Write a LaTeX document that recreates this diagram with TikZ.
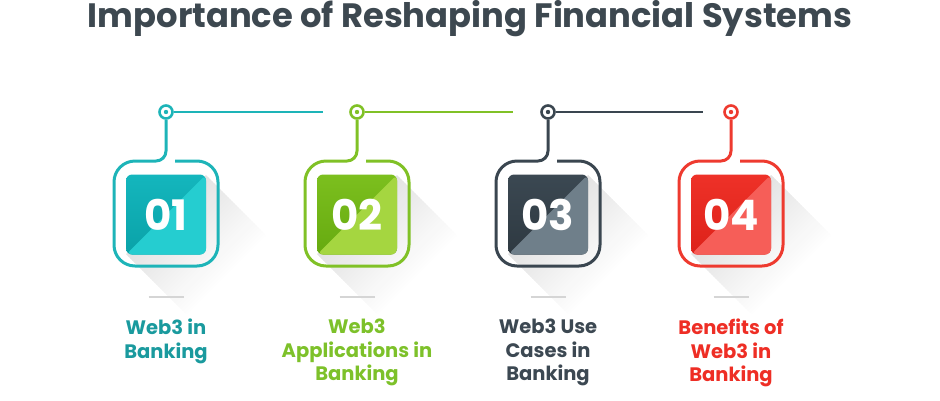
\documentclass[tikz,border=0pt]{standalone}
\usepackage{fontspec}
\setmainfont{Poppins}
\definecolor{titlecol}{HTML}{3D4850}
\definecolor{tealLine}{HTML}{1DB4B8}
\definecolor{tealA}{HTML}{14B6BD}
\definecolor{tealD}{HTML}{0AA2A8}
\definecolor{tealL}{HTML}{25CDD0}
\definecolor{tealT}{HTML}{1A9A9E}
\definecolor{greenLine}{HTML}{80C126}
\definecolor{greenA}{HTML}{7CBF1E}
\definecolor{greenD}{HTML}{66AA10}
\definecolor{greenL}{HTML}{A5D640}
\definecolor{greenT}{HTML}{7DC12A}
\definecolor{darkLine}{HTML}{3A4650}
\definecolor{darkA}{HTML}{3B4852}
\definecolor{darkD}{HTML}{2E3941}
\definecolor{darkL}{HTML}{6F7F8A}
\definecolor{darkT}{HTML}{3C4852}
\definecolor{redLine}{HTML}{EE3A2F}
\definecolor{redA}{HTML}{EE3128}
\definecolor{redD}{HTML}{DD2219}
\definecolor{redL}{HTML}{F65E58}
\definecolor{redT}{HTML}{EE2E25}
\definecolor{dashgray}{HTML}{D5D5D5}
\begin{document}
\begin{tikzpicture}[x=1pt,y=-1pt,
  cardline/.style={line width=3pt},
  ring/.style={circle,draw,line width=2.6pt,minimum size=13pt,inner sep=0pt},
  numbox/.style={rectangle,rounded corners=6pt,minimum size=80pt,inner sep=0pt,
     text=white,font=\fontsize{42}{42}\selectfont\bfseries},
  labeltext/.style={align=center,inner sep=0pt,anchor=north,
     font=\fontsize{19.5}{23.5}\selectfont\bfseries},
  smalldash/.style={draw=dashgray,line width=1.5pt}
]
\useasboundingbox (0,0) rectangle (940,400);
\node[anchor=base,text=titlecol,inner sep=0pt,font=\fontsize{33.8}{40}\selectfont\bfseries] (title) at (470,27) {Importance of Reshaping Financial Systems};

\foreach \i/\cx/\cl/\num/\lab in {
  1/166/teal/01/{Web3 in\\Banking},
  2/357/green/02/{Web3\\Applications in\\Banking},
  3/548/dark/03/{Web3 Use\\Cases in\\Banking},
  4/731/red/04/{Benefits of\\Web3 in\\Banking}}{
  \colorlet{curLine}{\cl Line}
  \colorlet{curA}{\cl A}
  \colorlet{curD}{\cl D}
  \colorlet{curL}{\cl L}
  \colorlet{curT}{\cl T}
  % long shadow
  \foreach \k in {29,28,...,0}{
    \pgfmathsetmacro\a{\k*2}
    \pgfmathsetmacro\b{\k*2+2.5}
    \pgfmathsetmacro\s{11*(1-\k/30)}
    \fill[black!\s] (\cx+40+\a,175+\a) -- (\cx-40+\a,254+\a) -- (\cx-40+\b,254+\b) -- (\cx+40+\b,175+\b) -- cycle;
  }
  % ring on top line
  \node[ring,draw=curLine] (c\i) at (\cx,112) {};
  \fill[curLine] (c\i.center) circle[radius=2.2pt];
  % card outline
  \draw[cardline,draw=curLine] (c\i.south) -- (\cx,151) arc[start angle=0,end angle=-90,radius=10pt]
     [rounded corners=21pt] -- (\cx-52,161) -- (\cx-52,266) -- (\cx+52,266) -- (\cx+52,161) -- (\cx+9,161);
  % number square
  \node[numbox,top color=curA,bottom color=curD,
     path picture={\fill[curL] (path picture bounding box.south west) -- (path picture bounding box.north east) -- (path picture bounding box.south east) -- cycle;}]
     (s\i) at (\cx,214.5) {\num};
  % small dash and label
  \draw[smalldash] (\cx-17.5,297) -- (\cx+17.5,297);
  \node[labeltext,text=curT] (l\i) at (\cx,319) {\lab};
}
\coordinate (e1) at (323,112);
\coordinate (e2) at (513,112);
\coordinate (e3) at (703,112);
\draw[cardline,draw=tealLine,line width=2.6pt] (c1.east) -- (e1);
\draw[cardline,draw=greenLine,line width=2.6pt] (c2.east) -- (e2);
\draw[cardline,draw=darkLine,line width=2.6pt] (c3.east) -- (e3);
\end{tikzpicture}
\end{document}
